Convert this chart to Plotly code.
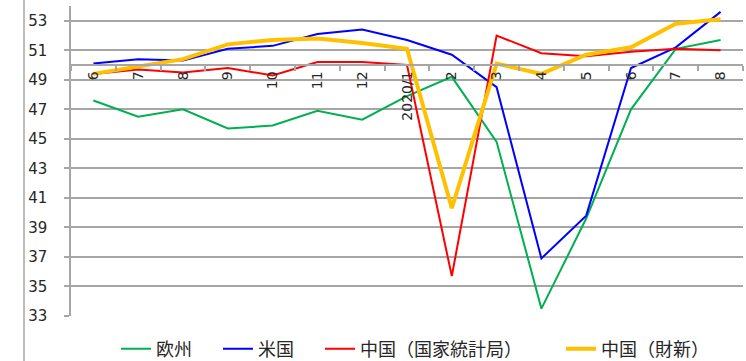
import plotly.graph_objects as go

months = ["2019/6", "2019/7", "2019/8", "2019/9", "2019/10", "2019/11", "2019/12",
          "2020/1", "2020/2", "2020/3", "2020/4", "2020/5", "2020/6", "2020/7", "2020/8"]
tick_labels = ["6", "7", "8", "9", "10", "11", "12", "2020/1", "2", "3", "4", "5", "6", "7", "8"]

europe = [47.6, 46.5, 47.0, 45.7, 45.9, 46.9, 46.3, 47.9, 49.2, 44.8, 33.5, 39.6, 47.0, 51.1, 51.7]
usa = [50.1, 50.4, 50.3, 51.1, 51.3, 52.1, 52.4, 51.7, 50.7, 48.5, 36.9, 39.8, 49.8, 51.2, 53.6]
china_nbs = [49.4, 49.7, 49.5, 49.8, 49.3, 50.2, 50.2, 50.0, 35.7, 52.0, 50.8, 50.6, 50.9, 51.1, 51.0]
china_caixin = [49.4, 49.9, 50.4, 51.4, 51.7, 51.8, 51.5, 51.1, 40.3, 50.1, 49.4, 50.7, 51.2, 52.8, 53.1]

series_names = ["欧州", "米国", "中国（国家統計局）", "中国（財新）"]
series_colors = ["#00B050", "#0000FF", "#FF0000", "#FFC000"]
series_widths = [2, 2, 2, 4]

y_min, y_max, y_cross = 33, 54, 50

# plot-area geometry (pixels)
L, R, T, B = 71, 3, 6, 45
W, H = 746, 361
pw = W - L - R
ph = H - T - B

legend_keys = ["legend", "legend2", "legend3", "legend4"]
legend_starts_px = [116, 218, 320, 561]

fig = go.Figure()
for name, vals, col, w, lg in zip(series_names, [europe, usa, china_nbs, china_caixin],
                                  series_colors, series_widths, legend_keys):
    fig.add_trace(go.Scatter(x=months, y=vals, name=name, mode="lines",
                             line=dict(color=col, width=w), legend=lg))

grid_col = "#A6A6A6"
text_col = "#262626"

legend_layout = {}
for lg, px in zip(legend_keys, legend_starts_px):
    legend_layout[lg] = dict(orientation="h", x=(px - L) / pw, xanchor="left",
                             y=(T + ph - 349) / ph, yanchor="middle",
                             font=dict(family="Noto Sans CJK JP", size=18, color=text_col),
                             itemwidth=30, bgcolor="rgba(0,0,0,0)", borderwidth=0)

fig.update_layout(
    width=W, height=H,
    margin=dict(l=L, r=R, t=T, b=B, autoexpand=False),
    plot_bgcolor="white", paper_bgcolor="white",
    font=dict(family="DejaVu Sans", color=text_col),
    showlegend=True,
    xaxis=dict(type="category", categoryorder="array", categoryarray=months,
               tickmode="array", tickvals=months, ticktext=tick_labels,
               range=[-0.5, len(months) - 0.5], automargin=False,
               anchor="free", position=(y_cross - y_min) / (y_max - y_min),
               showline=True, linecolor=grid_col, linewidth=1.5,
               ticks="outside", ticklen=5, tickcolor=grid_col, tickwidth=1.5,
               tickson="boundaries", tickangle=-90, showgrid=False,
               tickfont=dict(size=14, color=text_col)),
    yaxis=dict(range=[y_min, y_max], tick0=33, dtick=2, tickmode="linear",
               automargin=False,
               showline=True, linecolor=grid_col, linewidth=1.5,
               ticks="outside", ticklen=5, tickcolor=grid_col, tickwidth=1.5,
               showgrid=True, gridcolor=grid_col, gridwidth=1.5, zeroline=False,
               tickfont=dict(size=15, color=text_col), ticklabelstandoff=14),
    shapes=[dict(type="line", xref="paper", yref="paper",
                 x0=(24 - L) / pw, x1=(24 - L) / pw, y0=-0.2, y1=1.1,
                 line=dict(color=grid_col, width=1.5))],
    **legend_layout,
)

fig.write_html("out.html", config={"displayModeBar": False},
               post_script="document.body.style.margin='0';document.body.style.padding='0';")
